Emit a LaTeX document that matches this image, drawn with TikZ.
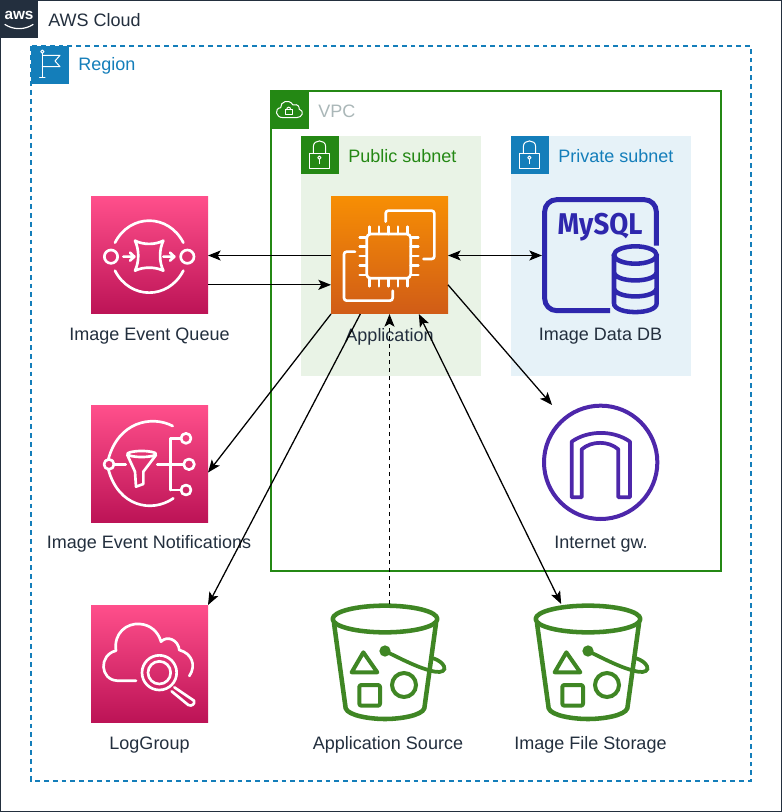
\documentclass[tikz,border=0pt]{standalone}
\usepackage{fontspec}
\setmainfont{Liberation Sans}
\newfontfamily\iconfont{Fira Sans}[UprightFont=* Bold]
\usetikzlibrary{arrows.meta,calc}
\definecolor{awsdark}{HTML}{232F3E}
\definecolor{regionblue}{HTML}{147EBA}
\definecolor{vpcgreen}{HTML}{248814}
\definecolor{pubbg}{HTML}{E9F3E6}
\definecolor{pribg}{HTML}{E6F2F8}
\definecolor{vpcgray}{HTML}{AAB7B8}
\definecolor{pinktop}{HTML}{FF4F8B}
\definecolor{pinkbot}{HTML}{BC1356}
\definecolor{orangetop}{HTML}{F78E04}
\definecolor{orangebot}{HTML}{D05C17}
\definecolor{bucketgreen}{HTML}{3F8624}
\definecolor{sqlpurple}{HTML}{2E27AD}
\definecolor{igwpurple}{HTML}{4D27AA}
\definecolor{textgray}{HTML}{232F3E}
\tikzset{
  x=0.75pt,y=-0.75pt,
  lbl/.style={font=\fontsize{13.5pt}{15pt}\selectfont,text=textgray,inner sep=0pt},
  grouplbl/.style={font=\fontsize{13.5pt}{15pt}\selectfont,inner sep=0pt,anchor=west},
  groupbox/.style={minimum width=#1,inner sep=0pt,outer sep=0pt,anchor=north west},
  iconbox/.style={minimum size=87.75pt,inner sep=0pt,outer sep=0pt,anchor=north west},
  pinkbox/.style={iconbox,rectangle,top color=pinktop,bottom color=pinkbot,shading angle=0},
  orangebox/.style={iconbox,rectangle,top color=orangetop,bottom color=orangebot},
  tab/.style={minimum size=28.2pt,inner sep=0pt,outer sep=0pt,anchor=north west},
  glyph/.style={draw=white,line width=2pt,line cap=round,line join=round,fill=none},
  thin glyph/.style={draw=white,line width=0.75pt,line cap=round,line join=round,fill=none},
  conn/.style={draw=black,line width=0.95pt,-{Stealth[length=9.5pt,width=7.5pt,inset=2.2pt]}},
  biconn/.style={draw=black,line width=0.95pt,{Stealth[length=9.5pt,width=7.5pt,inset=2.2pt]}-{Stealth[length=9.5pt,width=7.5pt,inset=2.2pt]}},
  zoomed/.style={x=0.25pt,y=-0.25pt},
}
\newcommand{\bucketglyph}{%
  \draw[bucketgreen,line width=3.4pt,line join=round,line cap=round]
    (195,72) ellipse [x radius=157,y radius=40];
  \draw[bucketgreen,line width=3.4pt,line join=round,line cap=round]
    (42,85) -- (77,340) .. controls (85,362) and (150,372) .. (195,372)
    .. controls (240,372) and (305,362) .. (313,340) -- (348,85);
  \draw[bucketgreen,line width=3pt,line join=round]
    (130,172) -- (95,232) -- (172,232) -- cycle;
  \draw[bucketgreen,line width=3pt,line join=round,rounded corners=1.5pt]
    (118,270) rectangle (180,332);
  \draw[bucketgreen,line width=3pt] (252,270) circle [radius=36];
  \fill[bucketgreen] (195,168) circle [radius=17];
  \draw[bucketgreen,line width=2.8pt,line cap=round]
    (195,168) .. controls (240,190) and (300,222) .. (345,230)
    .. controls (365,234) and (378,226) .. (372,214) .. controls (368,204) and (355,195) .. (340,190);
}
\newcommand{\lockglyph}{%
  \draw[thin glyph] (133,205) rectangle (193,250);
  \draw[thin glyph] (145,205) -- (145,185) .. controls (145,162) and (182,162) .. (182,185) -- (182,205);
  \draw[thin glyph] (163,218) circle [radius=5];
  \draw[thin glyph] (163,223) -- (163,236);
}
\begin{document}
\begin{tikzpicture}
\useasboundingbox (0,0) rectangle (782,812);
\fill[white] (0,0) rectangle (782,812);
% groups
\node[groupbox=585.5pt,minimum height=608pt] (cloud) at (0.7,0.7) {};
\draw[awsdark,line width=0.95pt] (cloud.north west) rectangle (cloud.south east);
\node[groupbox=540pt,minimum height=551.25pt] (region) at (31,46) {};
\draw[regionblue,line width=0.95pt,dash pattern=on 3.6pt off 3pt] (region.north west) rectangle (region.south east);
\node[groupbox=337.5pt,minimum height=360pt] (vpc) at (271,91) {};
\draw[vpcgreen,line width=0.95pt] (vpc.north west) rectangle (vpc.south east);
\node[groupbox=135pt,fill=pubbg,minimum height=180pt] (pub) at (301,136) {};
\node[groupbox=135pt,fill=pribg,minimum height=180pt] (pri) at (511,136) {};
% tabs
\node[tab,fill=awsdark] (awstab) at (0,0) {};
\node[tab,fill=regionblue] (regiontab) at (31,46) {};
\node[tab,fill=vpcgreen] (vpctab) at (271,91) {};
\node[tab,fill=vpcgreen] (pubtab) at (301,136) {};
\node[tab,fill=regionblue] (pritab) at (511,136) {};
% aws logo
\node[text=white,font=\bfseries\fontsize{11.5pt}{12pt}\selectfont,inner sep=0pt] (awslogo) at (19,15.5) {aws};
\draw[white,line width=0.9pt,line cap=round] (5,24.5) .. controls (13,30) and (25,30) .. (33,24.5);
% flag
\begin{scope}[zoomed]
  \draw[thin glyph] (127,160) -- (127,232) (119,232) -- (135,232);
  \draw[thin glyph] (127,155) circle [radius=5];
  \draw[thin glyph] (127,166) -- (180,166) -- (165,183) -- (180,200) -- (127,200);
\end{scope}
% vpc cloud
\begin{scope}[shift={(265,85)},zoomed]
  \draw[thin glyph] (55,98) .. controls (30,98) and (28,70) .. (47,68) .. controls (45,50) and (72,40) .. (84,60)
    .. controls (100,55) and (104,68) .. (102,72) .. controls (120,78) and (112,98) .. (95,98) -- cycle;
  \draw[thin glyph] (61,74) rectangle (81,88);
  \draw[thin glyph] (65,74) .. controls (65,64) and (77,64) .. (77,74);
\end{scope}
% subnet locks
\begin{scope}[shift={(265,85)},zoomed]
  \lockglyph
\end{scope}
\begin{scope}[shift={(475,85)},zoomed]
  \lockglyph
\end{scope}
% group labels
\node[grouplbl,text=textgray] (cloudlbl) at (48,20.5) {AWS Cloud};
\node[grouplbl,text=regionblue] (regionlbl) at (78,66) {Region};
\node[grouplbl,text=vpcgray] (vpclbl) at (318,111) {VPC};
\node[grouplbl,text=vpcgreen] (publbl) at (348,156) {Public subnet};
\node[grouplbl,text=regionblue] (prilbl) at (558,156) {Private subnet};
% icon boxes
\node[pinkbox] (sqs) at (91,197) {};
\node[orangebox] (app) at (331,197) {};
\node[pinkbox] (sns) at (91,405.5) {};
\node[pinkbox] (logs) at (91,605) {};
\node[iconbox] (db) at (542,197) {};
\node[iconbox] (igw) at (543,405) {};
\node[iconbox] (src) at (331,604) {};
\node[iconbox] (store) at (534,604) {};
% SQS glyph
\begin{scope}[shift={(80,190)},zoomed]
  \draw[glyph] (93,200) circle [radius=20];
  \draw[glyph] (322,200) circle [radius=20];
  \draw[glyph] (105,158) .. controls (150,70) and (265,70) .. (310,158);
  \draw[glyph] (105,242) .. controls (150,330) and (265,330) .. (310,242);
  \draw[glyph] (130,200) -- (163,200) (150,188) -- (163,200) -- (150,212);
  \draw[glyph] (250,200) -- (283,200) (270,188) -- (283,200) -- (270,212);
  \draw[glyph] (165,152) .. controls (190,165) and (225,165) .. (250,152)
     .. controls (237,180) and (237,215) .. (250,242)
     .. controls (225,230) and (190,230) .. (165,242)
     .. controls (178,215) and (178,180) .. (165,152) -- cycle;
\end{scope}
% EC2 glyph
\begin{scope}[shift={(320,190)},zoomed]
  \draw[glyph,rounded corners=3pt] (140,132) rectangle (272,265);
  \foreach \p in {148,177,206,234,262}{
    \draw[glyph] (\p,110) -- (\p,132);
    \draw[glyph] (\p,265) -- (\p,289);
  }
  \foreach \p in {142,170,198,226,255}{
    \draw[glyph] (119,\p) -- (140,\p);
    \draw[glyph] (272,\p) -- (295,\p);
  }
  \draw[glyph,rounded corners=2pt] (197,95) -- (197,62) -- (343,62) -- (343,207) -- (310,207);
  \draw[glyph,rounded corners=2pt] (105,185) -- (72,185) -- (72,332) -- (218,332) -- (218,302);
\end{scope}
% DB glyph
\begin{scope}[shift={(530,190)},zoomed]
  \draw[sqlpurple,line width=3.7pt,rounded corners=9pt]
    (379,167) -- (379,29) -- (44,29) -- (44,362) -- (240,362);
  \draw[sqlpurple,line width=3.4pt] (316,195) ellipse [x radius=64,y radius=26];
  \draw[sqlpurple,line width=3.4pt]
    (252,195) -- (252,340) .. controls (252,375) and (380,375) .. (380,340) -- (380,195)
    (252,245) .. controls (252,280) and (380,280) .. (380,245)
    (252,293) .. controls (252,328) and (380,328) .. (380,293);
  \node[text=sqlpurple,font=\iconfont\fontsize{22.5pt}{24pt}\selectfont,inner sep=0pt,xscale=0.92] (mysql) at (210,112) {MySQL};
\end{scope}
% SNS glyph
\begin{scope}[shift={(80,400)},zoomed]
  \draw[glyph] (87,193) circle [radius=15];
  \draw[glyph] (278,78) .. controls (215,45) and (115,65) .. (85,178);
  \draw[glyph] (85,208) .. controls (115,320) and (215,340) .. (280,295);
  \draw[glyph] (102,193) -- (137,193);
  \draw[glyph] (185,162) ellipse [x radius=43,y radius=9];
  \draw[glyph] (142,165) -- (165,215) -- (168,260) -- (190,252) -- (190,215) -- (228,165);
  \draw[glyph] (232,193) -- (311,193);
  \draw[glyph] (272,115) -- (272,270);
  \draw[glyph] (272,115) -- (303,115) (272,270) -- (303,270);
  \draw[glyph] (318,115) circle [radius=15];
  \draw[glyph] (318,270) circle [radius=15];
  \draw[glyph] (327,193) circle [radius=16];
\end{scope}
% LogGroup glyph
\begin{scope}[shift={(80,600)},zoomed]
  \draw[glyph] (168,242) -- (112,242) .. controls (60,240) and (55,165) .. (108,152)
    .. controls (100,100) and (140,68) .. (180,72)
    .. controls (210,74) and (235,95) .. (243,125)
    .. controls (262,105) and (295,120) .. (298,150)
    .. controls (335,160) and (350,195) .. (328,228);
  \draw[glyph] (238,218) circle [radius=52];
  \draw[glyph] (238,218) circle [radius=34];
  \draw[glyph] (283,262) -- (342,302) .. controls (346,312) and (335,320) .. (325,315) -- (275,274);
\end{scope}
% IGW glyph
\begin{scope}[shift={(530,400)},zoomed]
  \draw[igwpurple,line width=3pt] (212,187) circle [radius=170];
  \draw[igwpurple,line width=2.8pt,line join=round]
    (125,292) -- (125,125) .. controls (175,90) and (250,90) .. (300,125) -- (300,292)
    -- (265,292) -- (265,148) .. controls (235,122) and (185,122) .. (155,148) -- (155,292) -- cycle;
\end{scope}
% bucket glyphs
\begin{scope}[shift={(320,595)},zoomed]
  \bucketglyph
\end{scope}
\begin{scope}[shift={(523,595)},zoomed]
  \bucketglyph
\end{scope}
% labels
\node[lbl] (sqslbl) at (149.5,336.5) {Image Event Queue};
\node[lbl] (applbl) at (389.5,336.5) {Application};
\node[lbl] (dblbl) at (600.5,336.5) {Image Data DB};
\node[lbl] (snslbl) at (149,544) {Image Event Notifications};
\node[lbl] (igwlbl) at (601,544) {Internet gw.};
\node[lbl] (logslbl) at (149.5,745) {LogGroup};
\node[lbl] (srclbl) at (388,745) {Application Source};
\node[lbl] (storelbl) at (590.5,745) {Image File Storage};
% connectors
\draw[conn] (app.west) -- (sqs.east);
\draw[conn] ([yshift=-22pt]sqs.east) -- ([yshift=-22pt]app.west);
\draw[biconn] (app.east) -- (db.west);
\draw[conn] ([yshift=-22pt]app.east) -- ([xshift=6.8pt]igw.north west);
\draw[conn] (app.south west) -- ([yshift=-6.4pt]sns.east);
\draw[conn] ([xshift=22pt]app.south west) -- (logs.north east);
\draw[conn,dash pattern=on 3pt off 3pt] (src.north) -- (app.south);
\draw[biconn] ([xshift=22pt]app.south) -- ([xshift=-23.5pt]store.north);
\end{tikzpicture}
\end{document}
